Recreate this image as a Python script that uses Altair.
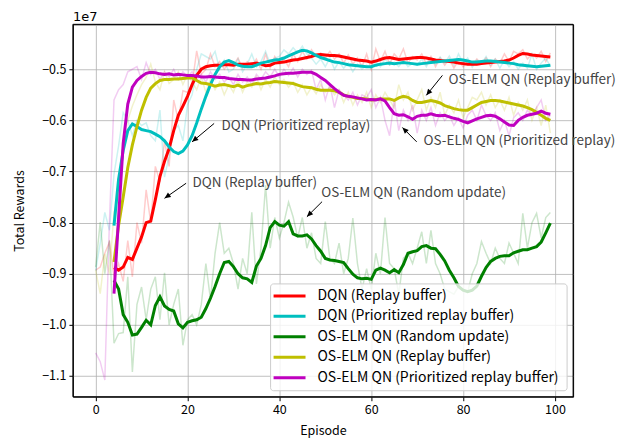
import math
import altair as alt
import pandas as pd

# ---------------- data (values in units of 1e7) ----------------
series_names = [
    "DQN (Replay buffer)",
    "DQN (Prioritized replay buffer)",
    "OS-ELM QN (Random update)",
    "OS-ELM QN (Replay buffer)",
    "OS-ELM QN (Prioritized replay buffer)",
]
series_colors = ["#ff0000", "#00bfbf", "#008000", "#bfbf00", "#bf00bf"]

raw_episodes = list(range(0, 100))
smooth_episodes = list(range(4, 100))

raw_dqn_rb = [
    -0.893, -0.887, -0.860, -0.838, -0.905, -0.880, -0.915, -0.835, -0.906, -0.800,
    -0.840, -0.736, -0.800, -0.690, -0.720, -0.640, -0.690, -0.560, -0.600, -0.542,
    -0.545, -0.530, -0.464, -0.510, -0.500, -0.470, -0.495, -0.485, -0.500, -0.488,
    -0.492, -0.478, -0.498, -0.485, -0.495, -0.480, -0.500, -0.470, -0.497, -0.475,
    -0.490, -0.480, -0.495, -0.470, -0.485, -0.465, -0.480, -0.462, -0.475, -0.468,
    -0.478, -0.465, -0.480, -0.470, -0.488, -0.472, -0.490, -0.478, -0.495, -0.470,
    -0.500, -0.460, -0.485, -0.465, -0.490, -0.470, -0.480, -0.460, -0.488, -0.475,
    -0.482, -0.470, -0.490, -0.475, -0.495, -0.478, -0.492, -0.480, -0.498, -0.482,
    -0.495, -0.485, -0.492, -0.480, -0.490, -0.478, -0.495, -0.480, -0.488, -0.470,
    -0.485, -0.465, -0.470, -0.462, -0.480, -0.470, -0.478, -0.465, -0.485, -0.468,
]
raw_dqn_prb = [
    -0.894, -0.840, -0.780, -0.815, -0.705, -0.650, -0.585, -0.600, -0.630, -0.600,
    -0.610, -0.605, -0.630, -0.640, -0.580, -0.711, -0.670, -0.620, -0.610, -0.640,
    -0.570, -0.550, -0.500, -0.470, -0.475, -0.480, -0.465, -0.500, -0.482, -0.505,
    -0.500, -0.480, -0.505, -0.490, -0.470, -0.495, -0.485, -0.465, -0.490, -0.478,
    -0.475, -0.462, -0.470, -0.458, -0.468, -0.455, -0.470, -0.478, -0.490, -0.480,
    -0.495, -0.478, -0.500, -0.485, -0.498, -0.488, -0.505, -0.490, -0.500, -0.492,
    -0.498, -0.485, -0.495, -0.480, -0.492, -0.486, -0.495, -0.482, -0.495, -0.488,
    -0.492, -0.480, -0.495, -0.478, -0.490, -0.476, -0.488, -0.474, -0.492, -0.470,
    -0.488, -0.478, -0.496, -0.482, -0.490, -0.475, -0.492, -0.480, -0.498, -0.482,
    -0.495, -0.485, -0.500, -0.488, -0.498, -0.470, -0.500, -0.488, -0.478, -0.495,
]
raw_elm_random = [
    -0.887, -0.799, -0.900, -0.835, -1.036, -1.017, -1.015, -0.906, -1.092, -0.960,
    -0.926, -0.990, -0.930, -0.906, -0.990, -0.898, -1.000, -0.960, -0.930, -1.040,
    -0.990, -0.980, -1.000, -0.960, -0.880, -0.950, -0.860, -0.800, -0.860, -0.850,
    -0.880, -0.930, -0.870, -0.900, -0.780, -0.920, -0.850, -0.727, -0.850, -0.790,
    -0.830, -0.800, -0.760, -0.789, -0.830, -0.790, -0.850, -0.820, -0.870, -0.880,
    -0.798, -0.870, -0.880, -0.840, -0.900, -0.870, -0.791, -0.880, -0.930, -0.890,
    -0.930, -0.860, -0.900, -0.790, -0.880, -0.890, -0.940, -0.870, -0.860, -0.880,
    -0.850, -0.818, -0.880, -0.815, -0.880, -0.900, -0.930, -0.935, -0.940, -0.925,
    -0.930, -0.935, -0.900, -0.880, -0.837, -0.860, -0.880, -0.850, -0.870, -0.880,
    -0.840, -0.860, -0.880, -0.782, -0.850, -0.800, -0.782, -0.830, -0.790, -0.780,
]
raw_elm_rb = [
    -0.893, -0.939, -0.861, -0.900, -0.780, -0.750, -0.640, -0.600, -0.572, -0.550,
    -0.530, -0.516, -0.490, -0.525, -0.540, -0.505, -0.528, -0.520, -0.505, -0.530,
    -0.510, -0.525, -0.540, -0.515, -0.545, -0.520, -0.540, -0.525, -0.550, -0.530,
    -0.545, -0.520, -0.545, -0.525, -0.535, -0.515, -0.540, -0.520, -0.535, -0.515,
    -0.530, -0.520, -0.535, -0.525, -0.545, -0.530, -0.550, -0.535, -0.548, -0.530,
    -0.545, -0.535, -0.550, -0.540, -0.565, -0.545, -0.570, -0.550, -0.565, -0.545,
    -0.575, -0.550, -0.565, -0.545, -0.560, -0.575, -0.530, -0.560, -0.545, -0.580,
    -0.560, -0.540, -0.580, -0.555, -0.575, -0.545, -0.590, -0.570, -0.585, -0.560,
    -0.595, -0.575, -0.555, -0.560, -0.545, -0.570, -0.550, -0.575, -0.560, -0.580,
    -0.555, -0.590, -0.565, -0.580, -0.560, -0.600, -0.575, -0.610, -0.570, -0.625,
]
raw_elm_prb = [
    -1.055, -1.072, -1.108, -0.800, -0.560, -0.540, -0.530, -0.505, -0.500, -0.495,
    -0.520, -0.487, -0.510, -0.500, -0.520, -0.505, -0.515, -0.500, -0.520, -0.505,
    -0.515, -0.505, -0.520, -0.510, -0.525, -0.505, -0.520, -0.510, -0.525, -0.515,
    -0.530, -0.510, -0.525, -0.515, -0.530, -0.510, -0.520, -0.505, -0.515, -0.500,
    -0.515, -0.500, -0.512, -0.498, -0.515, -0.500, -0.510, -0.502, -0.540, -0.520,
    -0.560, -0.530, -0.575, -0.540, -0.550, -0.560, -0.545, -0.570, -0.550, -0.555,
    -0.540, -0.575, -0.555, -0.600, -0.630, -0.560, -0.620, -0.580, -0.600, -0.570,
    -0.625, -0.580, -0.600, -0.575, -0.610, -0.585, -0.600, -0.590, -0.610, -0.595,
    -0.615, -0.590, -0.580, -0.600, -0.570, -0.590, -0.600, -0.585, -0.620, -0.600,
    -0.630, -0.595, -0.585, -0.600, -0.580, -0.590, -0.575, -0.560, -0.600, -0.590,
]

smooth_dqn_rb = [
    -0.888, -0.893, -0.887, -0.868, -0.872, -0.850, -0.828, -0.800, -0.797, -0.755,
    -0.710, -0.680, -0.655, -0.620, -0.590, -0.572, -0.553, -0.530, -0.512, -0.500,
    -0.495, -0.493, -0.492, -0.492, -0.491, -0.491, -0.492, -0.490, -0.490, -0.490,
    -0.489, -0.488, -0.490, -0.493, -0.492, -0.488, -0.487, -0.486, -0.484, -0.482,
    -0.481, -0.479, -0.477, -0.475, -0.472, -0.471, -0.472, -0.473, -0.473, -0.474,
    -0.476, -0.478, -0.480, -0.482, -0.483, -0.484, -0.486, -0.484, -0.481, -0.478,
    -0.477, -0.479, -0.481, -0.480, -0.479, -0.478, -0.477, -0.477, -0.478, -0.480,
    -0.482, -0.483, -0.484, -0.485, -0.486, -0.488, -0.489, -0.490, -0.490, -0.490,
    -0.489, -0.488, -0.487, -0.486, -0.485, -0.484, -0.482, -0.478, -0.473, -0.469,
    -0.470, -0.472, -0.473, -0.474, -0.475, -0.476,
]
smooth_dqn_prb = [
    -0.806, -0.715, -0.659, -0.620, -0.607, -0.612, -0.618, -0.620, -0.622, -0.627,
    -0.632, -0.640, -0.652, -0.661, -0.665, -0.660, -0.648, -0.630, -0.605, -0.578,
    -0.553, -0.530, -0.510, -0.495, -0.486, -0.483, -0.487, -0.492, -0.494, -0.495,
    -0.495, -0.492, -0.488, -0.486, -0.484, -0.482, -0.481, -0.478, -0.474, -0.470,
    -0.466, -0.463, -0.464, -0.468, -0.473, -0.477, -0.480, -0.483, -0.486, -0.487,
    -0.489, -0.491, -0.492, -0.493, -0.494, -0.495, -0.495, -0.492, -0.490, -0.489,
    -0.488, -0.489, -0.488, -0.487, -0.488, -0.489, -0.490, -0.489, -0.488, -0.487,
    -0.486, -0.485, -0.484, -0.483, -0.482, -0.481, -0.482, -0.484, -0.486, -0.486,
    -0.485, -0.484, -0.484, -0.485, -0.486, -0.487, -0.488, -0.489, -0.491, -0.492,
    -0.493, -0.494, -0.495, -0.494, -0.493, -0.492,
]
smooth_elm_random = [
    -0.913, -0.930, -0.980, -0.995, -1.020, -1.018, -1.005, -0.991, -1.000, -0.962,
    -0.945, -0.963, -0.970, -0.973, -0.998, -1.006, -0.995, -0.992, -0.990, -0.985,
    -0.968, -0.948, -0.925, -0.900, -0.878, -0.876, -0.886, -0.900, -0.908, -0.910,
    -0.917, -0.885, -0.870, -0.845, -0.810, -0.798, -0.805, -0.807, -0.798, -0.822,
    -0.826, -0.826, -0.824, -0.832, -0.845, -0.856, -0.870, -0.873, -0.874, -0.876,
    -0.878, -0.890, -0.901, -0.908, -0.910, -0.909, -0.911, -0.893, -0.889, -0.893,
    -0.898, -0.892, -0.898, -0.882, -0.860, -0.857, -0.855, -0.847, -0.845, -0.850,
    -0.851, -0.862, -0.875, -0.893, -0.908, -0.925, -0.932, -0.935, -0.932, -0.924,
    -0.905, -0.888, -0.876, -0.870, -0.866, -0.865, -0.865, -0.859, -0.856, -0.853,
    -0.853, -0.850, -0.847, -0.838, -0.820, -0.801,
]
smooth_elm_rb = [
    -0.877, -0.805, -0.750, -0.692, -0.648, -0.612, -0.580, -0.555, -0.537, -0.528,
    -0.522, -0.520, -0.520, -0.519, -0.519, -0.518, -0.517, -0.517, -0.522, -0.527,
    -0.528, -0.530, -0.533, -0.531, -0.530, -0.532, -0.534, -0.531, -0.535, -0.532,
    -0.530, -0.528, -0.529, -0.527, -0.526, -0.524, -0.525, -0.526, -0.527, -0.528,
    -0.531, -0.534, -0.535, -0.536, -0.539, -0.541, -0.541, -0.541, -0.542, -0.545,
    -0.550, -0.553, -0.555, -0.557, -0.557, -0.558, -0.560, -0.559, -0.558, -0.558,
    -0.558, -0.561, -0.556, -0.553, -0.555, -0.561, -0.565, -0.565, -0.563, -0.561,
    -0.563, -0.566, -0.571, -0.574, -0.577, -0.579, -0.580, -0.580, -0.575, -0.570,
    -0.565, -0.563, -0.561, -0.561, -0.562, -0.564, -0.566, -0.568, -0.570, -0.572,
    -0.575, -0.579, -0.584, -0.590, -0.596, -0.600,
]
smooth_elm_prb = [
    -0.939, -0.790, -0.645, -0.568, -0.535, -0.522, -0.514, -0.508, -0.506, -0.507,
    -0.509, -0.510, -0.509, -0.511, -0.510, -0.511, -0.512, -0.512, -0.513, -0.515,
    -0.515, -0.514, -0.515, -0.516, -0.516, -0.518, -0.519, -0.520, -0.520, -0.521,
    -0.521, -0.519, -0.518, -0.517, -0.515, -0.513, -0.510, -0.509, -0.508, -0.508,
    -0.507, -0.506, -0.506, -0.506, -0.510, -0.516, -0.522, -0.530, -0.538, -0.545,
    -0.551, -0.553, -0.554, -0.556, -0.558, -0.560, -0.559, -0.560, -0.558, -0.562,
    -0.575, -0.587, -0.590, -0.589, -0.593, -0.598, -0.592, -0.590, -0.590, -0.587,
    -0.590, -0.591, -0.590, -0.593, -0.596, -0.598, -0.602, -0.605, -0.601, -0.597,
    -0.594, -0.591, -0.590, -0.592, -0.597, -0.603, -0.609, -0.610, -0.600, -0.594,
    -0.590, -0.588, -0.586, -0.582, -0.586, -0.588,
]

x_ticks = [0, 20, 40, 60, 80, 100]
y_ticks = [-1.1, -1.0, -0.9, -0.8, -0.7, -0.6, -0.5]

# annotations: text, text anchor (episode, value), arrow tail, arrow tip
ann_texts = ["DQN (Prioritized replay)", "DQN (Replay buffer)", "OS-ELM QN (Random update)",
             "OS-ELM QN (Replay buffer)", "OS-ELM QN (Prioritized replay)"]
ann_text_ep = [27.4, 21.1, 49.1, 76.8, 71.4]
ann_text_val = [-0.611, -0.723, -0.742, -0.5215, -0.641]
ann_tail_ep = [25.8, 19.7, 49.3, 75.5, 69.9]
ann_tail_val = [-0.606, -0.723, -0.759, -0.512, -0.642]
ann_tip_ep = [21.0, 15.0, 46.0, 72.0, 66.8]
ann_tip_val = [-0.642, -0.7525, -0.7885, -0.551, -0.614]

# ---------------- layout ----------------
FONT = "Noto Sans CJK JP"
W, H = 501, 373
X_DOM = [-4.95, 103.95]
Y_DOM = [-1.1406, -0.4121]

raw_lists = [raw_dqn_rb, raw_dqn_prb, raw_elm_random, raw_elm_rb, raw_elm_prb]
smooth_lists = [smooth_dqn_rb, smooth_dqn_prb, smooth_elm_random, smooth_elm_rb, smooth_elm_prb]

raw_rows, smooth_rows = [], []
for i, name in enumerate(series_names):
    for e, v in zip(raw_episodes, raw_lists[i]):
        raw_rows.append({"series": name, "order": i, "episode": e, "reward": v})
    for e, v in zip(smooth_episodes, smooth_lists[i]):
        smooth_rows.append({"series": name, "order": i, "episode": e, "reward": v})
raw_df = pd.DataFrame(raw_rows)
smooth_df = pd.DataFrame(smooth_rows)

px_per_x = W / (X_DOM[1] - X_DOM[0])
px_per_y = H / (Y_DOM[1] - Y_DOM[0])
ann_rows = []
for i, t in enumerate(ann_texts):
    dx = (ann_tip_ep[i] - ann_tail_ep[i]) * px_per_x
    dy = -(ann_tip_val[i] - ann_tail_val[i]) * px_per_y
    ang = math.degrees(math.atan2(dx, -dy)) % 360
    ann_rows.append({"text": t, "tx": ann_text_ep[i], "ty": ann_text_val[i],
                     "ax": ann_tail_ep[i], "ay": ann_tail_val[i],
                     "bx": ann_tip_ep[i], "by": ann_tip_val[i], "angle": ang})
ann_df = pd.DataFrame(ann_rows)

xscale = alt.Scale(domain=X_DOM, nice=False, zero=False)
yscale = alt.Scale(domain=Y_DOM, nice=False, zero=False)
cscale = alt.Scale(domain=series_names, range=series_colors)

x_enc = alt.X("episode:Q", scale=xscale,
              axis=alt.Axis(values=x_ticks, title="Episode", format="d"))
y_enc = alt.Y("reward:Q", scale=yscale,
              axis=alt.Axis(values=y_ticks, title="Total Rewards",
                            labelExpr="replace(format(datum.value, '.1f'), '-', '\u2212')"))

legend = alt.Legend(
    orient="none", legendX=205, legendY=260, title=None,
    symbolType="M-4,0H4", symbolSize=64, symbolStrokeWidth=3, symbolOpacity=1,
    labelFontSize=14, labelFont=FONT, labelColor="black", labelLimit=0,
    labelOffset=21, padding=5, rowPadding=6.5,
)

raw_layer = alt.Chart(raw_df).mark_line(strokeWidth=1.5, opacity=0.2, clip=True).encode(
    x=x_enc, y=y_enc,
    color=alt.Color("series:N", scale=cscale, legend=legend),
)

smooth_layer = alt.Chart(smooth_df).mark_line(strokeWidth=3, clip=True).encode(
    x=x_enc, y=y_enc,
    color=alt.Color("series:N", scale=cscale, legend=legend),
)

legend_box = alt.Chart(pd.DataFrame({"f": [0]})).mark_rect(
    fill="white", fillOpacity=0.8, stroke="#cccccc", strokeWidth=1, cornerRadius=3
).encode(x=alt.value(198), x2=alt.value(495), y=alt.value(260), y2=alt.value(367))

frame = alt.Chart(pd.DataFrame({"f": [0]})).mark_rect(
    fill=None, stroke="black", strokeWidth=1
).encode(x=alt.value(0), x2=alt.value(W), y=alt.value(0), y2=alt.value(H))

arrow_lines = alt.Chart(ann_df).mark_rule(color="black", strokeWidth=1).encode(
    x=alt.X("ax:Q", scale=xscale), y=alt.Y("ay:Q", scale=yscale),
    x2="bx:Q", y2="by:Q",
)
arrow_heads = alt.Chart(ann_df).mark_point(
    shape="M0,0L0.45,1L-0.45,1Z", filled=True, color="black", opacity=1, size=150
).encode(
    x=alt.X("bx:Q", scale=xscale), y=alt.Y("by:Q", scale=yscale),
    angle=alt.Angle("angle:Q", scale=None),
)
ann_text_layer = alt.Chart(ann_df).mark_text(
    align="left", baseline="middle", font=FONT, fontSize=13.5, color="#444444"
).encode(
    x=alt.X("tx:Q", scale=xscale), y=alt.Y("ty:Q", scale=yscale), text="text:N",
)

offset_text = alt.Chart(pd.DataFrame({"t": ["1e7"]})).mark_text(
    align="left", baseline="alphabetic", font="DejaVu Sans", fontSize=13, color="black"
).encode(x=alt.value(0), y=alt.value(-3), text="t:N")

chart = alt.layer(
    raw_layer, smooth_layer, legend_box, frame, arrow_lines, arrow_heads,
    ann_text_layer, offset_text
).properties(
    width=W, height=H,
    autosize=alt.AutoSizeParams(type="none"),
    padding={"left": 65, "top": 16, "right": 60, "bottom": 48},
).configure(
    font=FONT,
).configure_view(
    stroke="black", strokeWidth=1,
).configure_axis(
    grid=True, gridColor="#b0b0b0", gridWidth=0.8,
    domain=False, tickColor="black", tickSize=4, tickWidth=1,
    labelFont=FONT, labelFontSize=12.5, labelColor="black",
    titleFont=FONT, titleFontSize=12.5, titleFontWeight="normal", titleColor="black",
).configure_axisX(labelPadding=3, titlePadding=8).configure_axisY(labelPadding=3, titlePadding=15)

chart.save("out.html", embed_options={"renderer": "svg", "actions": False})
